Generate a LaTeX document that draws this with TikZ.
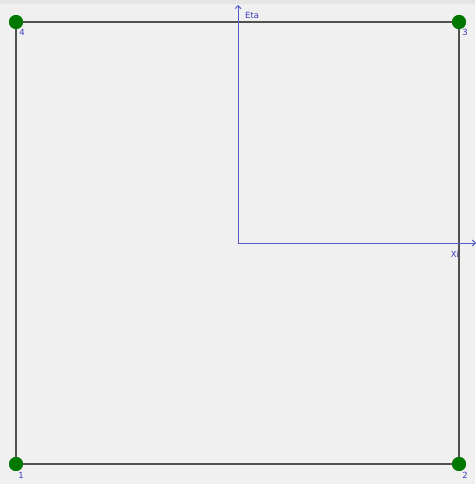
\documentclass[tikz,border=0pt]{standalone}
\usepackage{fontspec}
\setmainfont{DejaVu Sans}
\usetikzlibrary{arrows.meta}
\definecolor{bg}{RGB}{240,240,240}
\definecolor{edgec}{RGB}{80,80,80}
\definecolor{axisc}{RGB}{90,90,205}
\definecolor{nodec}{RGB}{0,120,0}
\definecolor{labc}{RGB}{60,60,190}
\tikzset{
  pt/.style={circle,fill=nodec,inner sep=0pt,minimum size=14pt},
  edgeline/.style={draw=edgec,line width=1.2pt},
  axisline/.style={draw=axisc,line width=1pt,-{Straight Barb[length=3pt,width=6pt]}},
  lab/.style={text=labc,font=\fontsize{8.5}{9}\selectfont,inner sep=0pt},
}
\begin{document}
\begin{tikzpicture}[x=1pt,y=-1pt]
\useasboundingbox (0,0) rectangle (475,484);
\fill[bg] (0,0) rectangle (475,484);
\fill[black!10] (0,0) rectangle (475,4);
\coordinate (O) at (238,243);
\coordinate (etaend) at (238,5);
\coordinate (xiend) at (476,243);
\node[pt] (n1) at (16,464) {};
\node[pt] (n2) at (459,464) {};
\node[pt] (n3) at (459,22) {};
\node[pt] (n4) at (16,22) {};
\draw[edgeline] (n1.center) -- (n2.center) -- (n3.center) -- (n4.center) -- cycle;
\node[pt] at (n1) {};
\node[pt] at (n2) {};
\node[pt] at (n3) {};
\node[pt] at (n4) {};
\draw[axisline] (O) -- (etaend);
\draw[axisline] (O) -- (xiend);
\node[lab,anchor=west] (leta) at (245,15) {Eta};
\node[lab] (lxi) at (455,254) {Xi};
\node[lab] (l1) at (21,475) {1};
\node[lab] (l2) at (465,475) {2};
\node[lab] (l3) at (465,32) {3};
\node[lab] (l4) at (22,32) {4};
\end{tikzpicture}
\end{document}
